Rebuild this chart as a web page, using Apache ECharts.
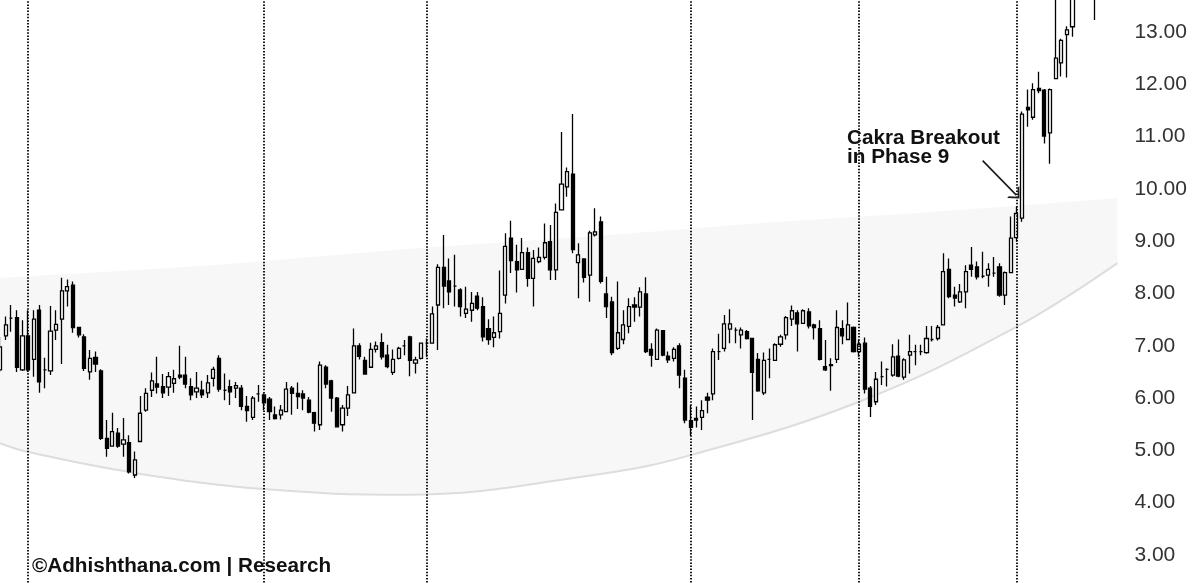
<!DOCTYPE html>
<html>
<head>
<meta charset="utf-8">
<script src="https://cdn.jsdelivr.net/npm/echarts@6/dist/echarts.min.js"></script>
<style>
html,body{margin:0;padding:0;background:#fff;}
#chart{width:1200px;height:583px;}
</style>
</head>
<body>
<div id="chart"></div>
<script>
// Candles: [open, close, low, high]
const candles = [
[6.54,6.98,6.50,7.17],[7.19,7.40,7.11,7.56],[7.53,7.53,7.27,7.78],[7.54,6.59,6.50,7.68],[6.54,7.19,6.52,7.49],
[7.19,6.54,6.50,7.68],[6.74,7.51,6.41,7.68],[7.68,6.31,6.10,7.78],[6.54,6.54,6.19,6.77],[6.52,7.28,6.44,7.76],
[7.30,7.41,7.11,7.68],[7.51,8.05,6.65,8.30],[8.05,8.13,7.75,8.27],[8.16,7.35,7.25,8.23],[7.35,7.21,7.16,7.36],
[7.17,6.57,6.52,7.22],[6.50,6.76,6.35,6.92],[6.78,6.65,6.50,6.89],[6.52,5.23,5.20,6.55],[5.23,5.04,4.88,5.58],
[5.08,5.36,5.07,5.72],[5.33,5.08,5.05,5.43],[5.12,5.20,4.88,5.62],[5.15,4.59,4.56,5.29],[4.53,4.82,4.47,4.98],
[5.17,5.71,5.17,6.04],[5.77,6.09,5.74,6.19],[6.15,6.33,6.02,6.49],[6.27,6.21,6.09,6.79],[6.22,6.10,6.00,6.46],
[6.21,6.41,6.04,6.50],[6.28,6.37,6.10,6.54],[6.44,6.40,6.36,7.00],[6.44,6.27,6.19,6.79],[6.22,6.06,5.96,6.38],
[6.12,6.19,6.00,6.50],[6.15,6.06,6.00,6.33],[6.10,6.29,6.00,6.44],[6.38,6.55,6.22,6.60],[6.76,6.17,6.12,6.82],
[6.15,6.15,5.96,6.47],[6.22,6.12,5.87,6.35],[6.19,6.24,6.00,6.31],[6.19,5.84,5.77,6.25],[5.84,5.76,5.55,6.04],
[5.63,6.00,5.58,6.04],[6.08,6.08,5.93,6.25],[6.06,5.91,5.77,6.09],[5.98,5.74,5.58,6.02],[5.68,5.61,5.59,5.84],
[5.68,5.77,5.59,5.87],[5.74,6.17,5.74,6.31],[6.19,6.09,5.68,6.23],[6.09,6.03,5.79,6.30],[6.08,6.00,5.77,6.15],
[5.96,5.73,5.71,6.02],[5.72,5.52,5.36,5.74],[5.49,6.63,5.39,6.70],[6.59,6.27,6.19,6.63],[6.33,6.00,5.74,6.35],
[6.00,5.45,5.45,6.02],[5.49,5.81,5.36,5.87],[5.81,6.06,5.66,6.23],[6.10,7.00,6.09,7.33],[7.00,6.80,6.74,7.05],
[6.72,6.46,6.46,6.79],[6.59,6.93,6.59,7.06],[6.93,7.00,6.87,7.08],[7.06,6.79,6.74,7.24],[6.82,6.60,6.57,7.02],
[6.49,6.74,6.44,6.93],[6.76,6.95,6.74,6.98],[7.00,7.00,6.82,7.11],[7.17,6.72,6.42,7.19],[6.67,6.73,6.47,6.79],
[6.76,7.05,6.74,7.06],[7.05,7.05,6.79,7.14],[7.05,7.61,7.05,7.75],[7.78,8.50,6.92,8.56],[8.50,8.14,7.72,9.12],
[8.24,8.03,7.78,8.67],[8.14,8.14,7.75,8.74],[8.07,7.75,7.56,8.10],[7.62,7.70,7.53,8.13],[7.68,7.81,7.46,8.03],
[7.95,7.72,7.68,8.03],[7.75,7.17,7.08,7.93],[7.33,7.12,7.02,7.51],[7.16,7.25,6.97,7.56],[7.27,7.62,7.14,8.44],
[7.97,8.90,7.81,9.15],[9.06,8.63,8.39,9.39],[8.61,8.45,8.02,8.93],[8.46,8.78,8.45,9.06],[8.78,8.29,8.13,8.88],
[8.29,8.67,7.75,8.83],[8.61,8.69,8.58,8.88],[8.69,8.97,8.65,9.34],[8.99,8.45,8.26,9.31],[8.45,9.55,8.26,9.72],
[9.60,10.09,9.60,11.09],[10.04,10.33,9.85,10.41],[10.28,8.84,8.77,11.43],[8.59,8.74,7.91,8.96],[8.66,8.31,8.21,8.67],
[8.35,9.16,7.84,9.20],[9.12,9.18,9.09,9.63],[9.37,8.23,8.19,9.47],[7.99,7.75,7.53,8.32],[7.84,6.87,6.82,7.94],
[6.95,7.25,6.92,8.23],[7.12,7.40,7.03,7.68],[7.37,7.75,7.24,7.91],[7.78,7.74,7.46,7.93],[7.74,8.03,7.56,8.12],
[7.99,6.89,6.86,8.31],[6.93,6.82,6.60,7.05],[6.74,7.30,6.73,7.33],[7.29,6.82,6.80,7.30],[6.80,6.73,6.67,6.89],
[6.76,6.93,6.70,6.97],[7.00,6.44,6.19,7.05],[6.38,5.58,5.52,6.54],[5.57,5.44,5.28,5.87],[5.61,5.58,5.44,5.84],
[5.63,5.76,5.39,5.96],[6.02,5.96,5.71,6.10],[6.08,6.89,5.96,6.95],[6.89,6.89,6.73,7.23],[6.95,7.42,6.89,7.59],
[7.32,7.42,7.05,7.70],[7.30,7.30,7.05,7.35],[7.21,7.30,6.95,7.35],[7.27,7.14,7.12,7.30],[7.14,6.49,5.58,7.14],
[6.74,6.14,6.12,6.86],[6.10,6.72,6.06,6.87],[6.74,6.74,6.38,6.95],[6.72,7.02,6.72,7.05],[7.03,7.17,6.98,7.21],
[7.21,7.54,7.12,7.57],[7.51,7.67,7.38,7.77],[7.63,7.42,6.89,7.68],[7.43,7.67,7.42,7.70],[7.65,7.38,7.33,7.72],
[7.40,7.35,7.12,7.42],[7.33,6.74,6.72,7.49],[6.60,6.54,6.52,7.11],[6.64,6.62,6.14,6.76],[6.74,7.35,6.67,7.68],
[7.33,7.19,7.03,7.49],[7.12,7.40,7.12,7.83],[7.35,6.89,6.87,7.37],[6.89,7.03,6.79,7.12],[7.05,6.17,6.09,7.16],
[6.19,5.84,5.64,6.23],[5.93,6.36,5.87,6.50],[6.41,6.41,6.25,6.70],[6.55,6.55,6.22,6.57],[6.44,6.79,6.41,7.03],
[6.80,6.42,6.40,7.12],[6.40,6.73,6.35,6.76],[6.82,6.89,6.47,7.21],[6.89,6.89,6.63,7.02],[6.89,6.89,6.82,7.02],
[6.87,7.14,6.85,7.38],[7.12,7.12,7.08,7.38],[7.14,7.35,7.10,7.40],[7.40,8.42,7.40,8.77],[8.46,7.94,7.91,8.67],
[7.97,7.91,7.75,8.13],[7.84,8.03,7.82,8.18],[8.03,8.42,7.72,8.54],[8.54,8.46,8.32,8.89],[8.51,8.32,8.27,8.61],
[8.33,8.33,8.29,8.80],[8.35,8.46,8.13,8.58],[8.39,8.39,8.32,8.70],[8.51,7.97,7.94,8.58],[7.97,8.40,7.78,8.42],
[8.40,9.06,8.40,9.47],[9.07,9.53,8.99,9.66],[9.44,11.43,9.37,11.48],[11.56,11.51,11.19,11.90],[11.37,11.90,11.32,12.02],
[11.92,11.88,11.83,12.24],[11.89,11.01,10.87,11.91],[11.07,11.90,10.48,11.92],[12.11,12.50,12.11,13.73],[12.41,12.84,12.15,12.87],
[12.95,13.04,12.13,13.11],[13.10,13.80,12.91,13.95],[13.85,14.20,13.70,14.40],[14.20,14.50,14.00,14.70],[14.50,14.30,14.10,14.80],
[14.20,13.70,13.23,14.40]
];
const categoryCount = 200;
const categories = Array.from({length: categoryCount}, (_, i) => String(i));

// Cakra band edges: [category index, price]
const bandLower = [[0,5.14],[5,4.97],[24,4.57],[47,4.26],[72,4.15],[107,4.55],[123,4.91],[153,5.93],[181,7.36],[199,8.58]];
const bandUpper = [[0,8.30],[36,8.53],[75,8.87],[110,9.13],[139,9.37],[166,9.56],[199,9.82]];

// Phase divider positions (category index)
const phaseLines = [5, 47, 76, 123, 153, 181];
// Annotation arrow [index, price]
const arrowFrom = [175, 10.54];
const arrowTo = [181, 9.88];

const yTicks = [2, 14, 1];

const chart = echarts.init(document.getElementById('chart'), null, {renderer: 'canvas'});

const chevron = 'path://M0,10 L5,0 L10,10 L8.6,10 L5,2.6 L1.4,10 Z';

const markData = phaseLines.map(i => ({xAxis: i}));
markData.push([
  {coord: arrowFrom, symbol: 'none', lineStyle: {type: 'solid', width: 1.6, color: '#1a1a1a'}},
  {coord: arrowTo, symbol: chevron, symbolSize: [17, 9]}
]);

chart.setOption({
  animation: false,
  backgroundColor: '#ffffff',
  grid: {left: 0, right: 82.6, top: -20.3, bottom: -24.3, containLabel: false, outerBoundsMode: 'none'},
  xAxis: {
    type: 'category',
    data: categories,
    boundaryGap: false,
    show: false
  },
  yAxis: {
    type: 'value',
    position: 'right',
    min: yTicks[0], max: yTicks[1], interval: yTicks[2],
    splitLine: {show: false},
    axisLine: {show: false},
    axisTick: {show: false},
    axisLabel: {
      margin: 17,
      color: '#333333',
      fontSize: 21,
      fontFamily: 'Liberation Sans, Arial, sans-serif',
      formatter: v => v.toFixed(2)
    }
  },
  series: [
    {
      type: 'line',
      data: bandUpper,
      smooth: 0.4,
      symbol: 'none',
      z: 0,
      lineStyle: {width: 0, color: '#f7f7f7'},
      areaStyle: {color: '#f7f7f7', opacity: 1, origin: 'start'},
      silent: true
    },
    {
      type: 'line',
      data: bandLower,
      smooth: 0.4,
      symbol: 'none',
      z: 1,
      lineStyle: {width: 2, color: '#dddddd'},
      areaStyle: {color: '#ffffff', opacity: 1, origin: 'start'},
      silent: true
    },
    {
      type: 'candlestick',
      data: candles,
      z: 3,
      clip: true,
      barWidth: 3.6,
      itemStyle: {
        color: '#ffffff',
        color0: '#000000',
        borderColor: '#000000',
        borderColor0: '#000000',
        borderColorDoji: '#000000',
        borderWidth: 1.3
      },
      markLine: {
        silent: true,
        symbol: 'none',
        animation: false,
        label: {show: false},
        lineStyle: {type: [1.5, 1.6], width: 1.8, color: '#000000'},
        emphasis: {disabled: true},
        data: markData
      }
    }
  ],
  graphic: [
    {
      type: 'text',
      left: 847,
      top: 128,
      z: 10,
      style: {
        text: 'Cakra Breakout\nin Phase 9',
        font: 'bold 20.7px "Liberation Sans", Arial, sans-serif',
        lineHeight: 19,
        fill: '#111111'
      }
    },
    {
      type: 'text',
      left: 32,
      top: 556,
      z: 10,
      style: {
        text: '©Adhishthana.com | Research',
        font: 'bold 20.7px "Liberation Sans", Arial, sans-serif',
        fill: '#111111'
      }
    }
  ]
});
</script>
</body>
</html>
